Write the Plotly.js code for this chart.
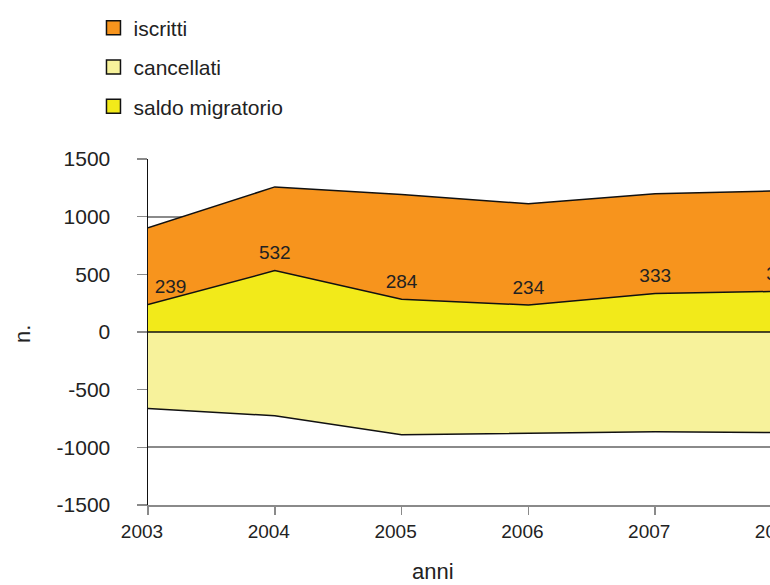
<!DOCTYPE html>
<html>
<head>
<meta charset="utf-8">
<script src="https://cdn.plot.ly/plotly-3.0.1.min.js"></script>
<style>
  html, body { margin: 0; padding: 0; overflow: hidden; background: #fff; }
</style>
</head>
<body>
<div id="chart"></div>
<script>
var anni = [2003, 2004, 2005, 2006, 2007, 2008];
var iscritti = [903, 1258, 1192, 1112, 1198, 1225];
var cancellati = [-664, -726, -890, -876, -865, -872];
var saldo = [239, 532, 284, 234, 333, 353];
var labelPos = ['top right', 'top center', 'top center', 'top center', 'top center', 'top center'];
var yTicks = [-1500, -1000, -500, 0, 500, 1000, 1500];
var yTickText = ['-1500', '-1000', '-500', '0', '500', '1000', '1500'];

var cOrange = '#F7941D';
var cPale = '#F7F29B';
var cYellow = '#F2EA1A';
var FONT = '"Liberation Sans", Arial, sans-serif';

var traces = [
  { x: anni, y: iscritti, type: 'scatter', mode: 'lines', fill: 'tozeroy',
    fillcolor: cOrange, line: { color: '#111', width: 1.5 }, showlegend: false, hoverinfo: 'skip' },
  { x: anni, y: saldo, type: 'scatter', mode: 'lines', fill: 'tozeroy',
    fillcolor: cYellow, line: { color: '#111', width: 1.5 }, showlegend: false, hoverinfo: 'skip' },
  { x: anni, y: cancellati, type: 'scatter', mode: 'lines', fill: 'tozeroy',
    fillcolor: cPale, line: { color: '#111', width: 1.5 }, showlegend: false, hoverinfo: 'skip' },
  { x: anni, y: saldo, type: 'scatter', mode: 'markers+text', text: saldo.map(String),
    textposition: labelPos, textfont: { family: FONT, size: 19, color: '#222' },
    marker: { size: 9, opacity: 0 }, showlegend: false, hoverinfo: 'skip', cliponaxis: false },
  // legend entries
  { x: [null], y: [null], type: 'scatter', mode: 'markers', name: 'iscritti', legendgroup: 'a',
    marker: { symbol: 'square', size: 14, color: cOrange, line: { color: '#111', width: 1.5 } } },
  { x: [null], y: [null], type: 'scatter', mode: 'markers', name: 'cancellati', legendgroup: 'b',
    marker: { symbol: 'square', size: 14, color: cPale, line: { color: '#111', width: 1.5 } } },
  { x: [null], y: [null], type: 'scatter', mode: 'markers', name: 'saldo migratorio', legendgroup: 'c',
    marker: { symbol: 'square', size: 14, color: cYellow, line: { color: '#111', width: 1.5 } } }
];

var layout = {
  width: 820,
  height: 585,
  margin: { l: 148, r: 38, t: 159, b: 80, autoexpand: false },
  paper_bgcolor: '#fff',
  plot_bgcolor: '#fff',
  font: { family: FONT, color: '#222' },
  showlegend: true,
  legend: {
    xref: 'container', yref: 'container',
    x: 0.114, y: 0.987, xanchor: 'left', yanchor: 'top',
    traceorder: 'grouped', tracegroupgap: 9,
    font: { family: FONT, size: 21, color: '#222' },
    bgcolor: 'rgba(0,0,0,0)'
  },
  xaxis: {
    range: [2003, 2008],
    tickvals: anni,
    ticktext: anni.map(String),
    showgrid: false,
    zeroline: false,
    showline: true,
    linecolor: '#8a8a8a',
    linewidth: 2,
    ticks: 'outside',
    ticklen: 8,
    tickcolor: '#8a8a8a',
    tickwidth: 1.5,
    ticklabelshift: -6,
    automargin: false,
    tickfont: { family: FONT, size: 19, color: '#222' }
  },
  yaxis: {
    range: [-1500, 1500],
    tickvals: yTicks,
    ticktext: yTickText,
    showgrid: true,
    gridcolor: '#8a8a8a',
    gridwidth: 2,
    zeroline: false,
    showline: true,
    linecolor: '#111',
    linewidth: 1.5,
    ticks: 'outside',
    ticklen: 10,
    tickcolor: '#8a8a8a',
    tickwidth: 1.5,
    ticklabelstandoff: 22,
    automargin: false,
    tickfont: { family: FONT, size: 21, color: '#222' }
  },
  annotations: [
    { text: 'anni', xref: 'paper', yref: 'paper', x: (433 - 148) / 634, y: -(571 - 505) / 346,
      xanchor: 'center', yanchor: 'middle', showarrow: false,
      font: { family: FONT, size: 22, color: '#222' } },
    { text: 'n.', xref: 'paper', yref: 'paper', x: (22 - 148) / 634, y: (505 - 334) / 346,
      xanchor: 'center', yanchor: 'middle', showarrow: false, textangle: -90,
      font: { family: FONT, size: 22, color: '#222' } }
  ],
  shapes: [
    { type: 'line', xref: 'paper', x0: 0, x1: 1, yref: 'y', y0: 0, y1: 0,
      line: { color: '#111', width: 1.5 } }
  ]
};

Plotly.newPlot('chart', traces, layout, { displayModeBar: false, staticPlot: true });
</script>
</body>
</html>
